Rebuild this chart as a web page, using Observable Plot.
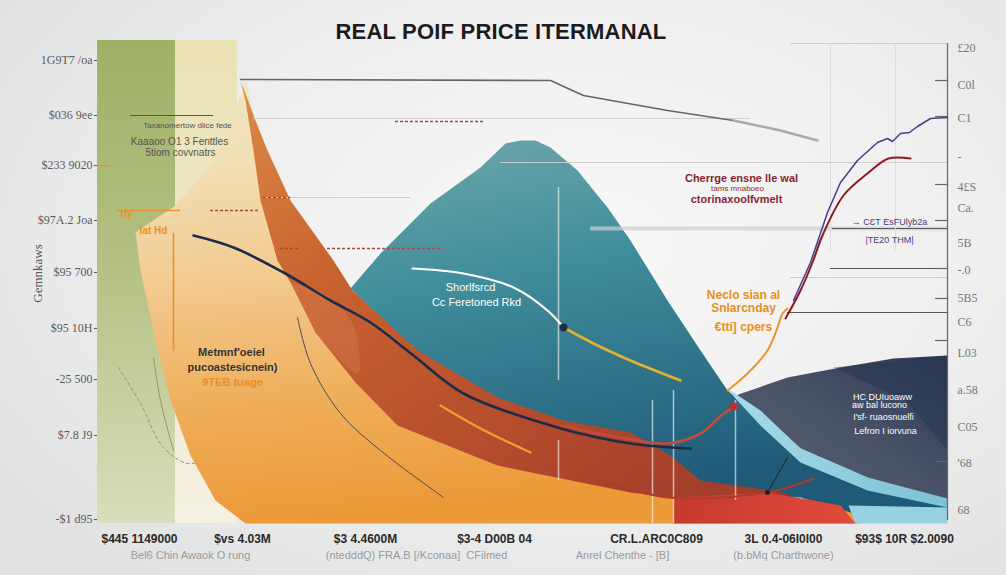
<!DOCTYPE html>
<html><head><meta charset="utf-8">
<script src="https://cdn.jsdelivr.net/npm/d3@7"></script>
<script src="https://cdn.jsdelivr.net/npm/@observablehq/plot@0.6"></script>
<style>
html,body{margin:0;padding:0;}
body{width:1006px;height:575px;overflow:hidden;background:radial-gradient(ellipse 70% 75% at 58% 42%, #f8f8f8 0%, #efefef 55%, #e1e2e3 100%);font-family:"Liberation Sans",Arial,sans-serif;}
#wrap{position:relative;width:1006px;height:575px;}
#title{position:absolute;top:19px;left:0;width:1002px;text-align:center;font:bold 22px/26px "Liberation Sans",Arial,sans-serif;color:#1b1b1b;letter-spacing:0.2px;}
</style></head><body>
<div id="wrap"><div id="title">REAL POIF PRICE ITERMANAL</div><div id="chart"></div></div>
<script>
// ---------- scales (x: 0..170, y: 0..100) ----------
const xDomain = [0, 170];
const yDomain = [0, 100];

// ---------- axis ticks ----------
const leftTickValues = [92.6, 81.6, 71.6, 60.6, 50.2, 39, 28.8, 17.6, 0.8];
const leftTickLabels = ["1G9T7 /oa", "$036 9ee", "$233 9020", "$97A.2 Joa", "$95 700", "$95 10H", "-25 500", "$7.8 J9", "-$1 d95"];
const rightTickValues = [95, 87.6, 81, 73.2, 67.2, 63, 56, 50.6, 45, 40.2, 34, 26.6, 19.2, 12, 2.6];
const rightTickLabels = ["£20", "C0l", "C1", "-", "4£S", "Ca.", "5B", "-.0", "5B5", "C6", "L03", "a.58", "C05", "'68", "68"];
const rightTickMarks = [88.6, 81.4, 67.8, 60.6, 51, 45, 36.6, 12.4];
const bottomTickValues = [8.4, 29, 53.6, 79.4, 111.8, 137.2, 161.4];
const bottomTickLabels = ["$445 1149000", "$vs 4.03M", "$3 4.4600M", "$3-4 D00B 04", "CR.L.ARC0C809", "3L 0.4-06I0I00", "$93$ 10R $2.0090"];
const subTickValues = [18.6, 63.8, 105, 137.2];
const subTickLabels = ["Bel6 Chin Awaok O rung", "(ntedddQ) FRA.B [/Kconaa]  CFilmed", "Anrel Chenthe - [B]", "(b.bMq Charthwone)"];
const yAxisTitle = ["Gemnkaws"];

// ---------- filled regions ----------
const greenBand = [{x1: 0, x2: 15.6, y1: 0, y2: 96.6}];
const creamBand = [{x1: 15.6, x2: 28, y1: 0, y2: 96.6}];
const orangeBody = [[29.6,88.6],[33,74.6],[37.6,60.6],[40.6,49.6],[44.6,40.6],[52.6,29.6],[60.6,20.6],[80.6,12.6],[106.6,6.6],[120.6,5],[152.6,3.6],[152.6,0],[29.6,0],[23.6,4.6],[18.6,13.6],[14.6,24.6],[11.6,36.6],[8.6,50.6],[7.6,58.2],[15.6,63.6],[23.6,72.6],[28.6,85.6]];
const salmonVeil = [[38.6,48.2],[45,46],[51,40],[52,30],[43.6,38.2]];
const tealPeak = [[50.6,47],[56.6,54],[66.6,64],[76.6,71.2],[81.6,76],[84.6,76.6],[87.6,76.6],[90.6,75.2],[96,70.6],[102,63.2],[106.6,56.6],[114,44.6],[120.6,34.6],[126,26.6],[140.6,14.6],[154,9.2],[170,5],[170,1.6],[152.6,1.6],[140.6,5.2],[120.6,5.6],[106.6,12.6],[93.2,19.6],[80,24.6],[64,34.2]];
const brownBand = [[28.6,88.6],[31.6,80.6],[34,74.6],[38.6,64.6],[47.2,52.6],[51,46.6],[64,34.6],[80,25.2],[93.2,20.6],[106.6,18.2],[114.6,13.6],[120.6,8.6],[134.6,6.6],[138.6,5.8],[134.6,5.2],[120.6,4.6],[106.6,6.2],[80,11.6],[60,19.6],[51.6,28.2],[43.6,38.2],[38.6,48.2],[36,52.6],[32.6,64.6],[31.2,74.6],[29.6,84.6]];
const slatePanel = [[127.6,25.6],[138,29.2],[148.6,31.2],[159.2,33],[170,33.6],[170,4.6],[154,9.2],[140.6,15],[132.6,22.2]];
const slateShade = [[147.2,31.2],[170,33.6],[170,14.6],[161.6,24.6]];
const blueRibbon = [[126,27],[132.6,22.6],[140.6,15],[154,9.2],[170,5],[170,3.2],[154,6.6],[140.6,12.2],[132.6,19.6],[127.6,25]];
const blueCorner = [[150.2,3.6],[170,3.2],[170,0],[151.6,0]];
const redBase = [[115.2,5.2],[134,6.2],[143.2,4.6],[148.6,3.6],[151.6,0],[115.2,0]];

// ---------- lines ----------
const topGrey = [[28.6,88.8],[90.6,88.6],[97.2,85.6],[114,82.6],[127.2,80.6]];
const topGreyFade = [[127.2,80.6],[136.6,78.6],[144,76.6]];
const navyLine = [[19.2,57.6],[27.2,55.2],[37.2,50.2],[46.6,44.6],[54.6,40.2],[63.2,33.6],[73.2,26],[92,19.2],[106.6,16],[118.6,15]];
const whiteLine = [[63,51],[73.2,50],[83.2,47.2],[90,42.6],[93.2,39.2]];
const goldLine = [[93.2,39.2],[100,35.6],[106.6,32.6],[116.6,28.6]];
const amberShort = [[68.6,23.6],[76.6,19],[86.6,14.2]];
const thinDark = [[40,41.2],[42.6,32],[48.6,22],[56.6,14.6],[69.2,5.2]];
const dashedGreen = [[4.2,31.2],[8.6,24],[13.2,15.2],[18,12],[21.2,12.6]];
const oliveThin = [[11.2,33.2],[12.6,24.6],[15.2,14.6]];
const orangeVertical = [[15.2,58],[15.2,34.6]];
const redU = [[92.6,19.6],[104.6,17.2],[114,16],[120.6,18],[125.2,22],[127.2,23.2]];
const redLow = [[100.6,8.6],[114,5.2],[134,6.2],[143.2,9]];
const blackTick = [[134,6.2],[138,13.2]];
const orangeRise = [[126,26.6],[130,30],[134,34.6],[136,39.2],[137,42],[138,43]];
const crimsonRise = [[137.6,41],[140.6,46.6],[143,52.2],[145,57.6],[149.2,65.6],[154,70],[158.2,73],[162.6,73]];
const purpleRise = [[139.2,44.6],[142.6,52.2],[146,62.2],[148.6,68.2],[152,72.6],[156,76.2],[158,77],[159,76.4],[160.6,78],[162.4,78.2],[164,79.4],[166.6,81],[170,81.2]];
const navyDots = [[93.2,39.2]];
const redDots = [[127.2,23.4]];
const blackDots = [[134,6.2]];

// ---------- rules ----------
const greyRules = [{y:96,x1:138.6,x2:170},{y:81,x1:31.2,x2:130.6},{y:72.2,x1:80.6,x2:170},{y:65.2,x1:33.2,x2:62.6},{y:49.2,x1:138.6,x2:170}];
const softBands = [{y:59,x1:98.6,x2:170}];
const darkRules = [{y:81.6,x1:6.6,x2:23.2},{y:51,x1:146.6,x2:170},{y:42.2,x1:138,x2:170},{y:59,x1:147,x2:170}];
const redDashRules = [{y:80.4,x1:59.6,x2:77.6},{y:65.2,x1:33.2,x2:38.6},{y:62.6,x1:22.6,x2:32.2},{y:55,x1:36.6,x2:40.6},{y:55,x1:46,x2:69.2}];
const orangeRules = [{y:62.6,x1:4,x2:16.6},{y:71.6,x1:0,x2:2.6}];
const whiteVRules = [{x:92.2,y1:67.2,y2:28.6},{x:92.2,y1:16.6,y2:8.6},{x:111,y1:24.6,y2:0},{x:115.2,y1:26.6,y2:0},{x:127.6,y1:24.6,y2:4.6}];
const greyVRules = [{x:146.6,y1:96,y2:54.6},{x:159.6,y1:96,y2:54.6}];
const rightAxisLine = [{x:170,y1:96,y2:0.6}];

// ---------- annotations ----------
const notesGreyTiny = [{x:18,y:79.6,text:"Taxanomertow dlice fede"}];
const notesGrey = [{x:16.4,y:76.4,text:"Kaaaoo O1 3 Fenttles"},{x:16.6,y:74.2,text:"5tiom covvnatrs"}];
const notesOrangeLeft = [{x:5.8,y:62,text:"tfy"},{x:11.2,y:58.6,text:"lat Hd"}];
const notesDarkMid = [{x:26.8,y:34.2,text:"Metmnf'oeiel"},{x:27,y:31.2,text:"pucoastesicnein)"}];
const notesOrangeMid = [{x:27,y:28.2,text:"9TEB tuage"}];
const notesWhiteTeal = [{x:74.6,y:47.2,text:"Shorlfsrcd"},{x:75.8,y:44.2,text:"Cc Feretoned Rkd"}];
const notesRed = [{x:128.8,y:69,text:"Cherrge ensne lle wal"},{x:127.8,y:64.8,text:"ctorinaxoolfvmelt"}];
const notesRedTiny = [{x:128,y:67,text:"tams mnaboeo"}];
const notesOrangeRight = [{x:129.2,y:45.6,text:"Neclo sian al"},{x:129.2,y:43,text:"Snlarcnday"},{x:129.2,y:39.2,text:"€tti] cpers"}];
const notesPurple = [{x:158.4,y:60.2,text:"→ CƐT EsFUlyb2a"},{x:158.4,y:56.6,text:"|TE20 THM|"}];
const notesPanel = [{x:157,y:25.2,text:"HC DUIuoaww"},{x:156.4,y:23.6,text:"aw bal lucono"},{x:157.2,y:21.2,text:"I'sf- ruaosnuelfi"},{x:157.6,y:18.4,text:"Lefron I iorvuna"}];

// ---------- gradients ----------
const gradients = [
  {id:"gGreen", v:[0,0,0,1], stops:[[0,"#9fb066"],[0.45,"#b4c082"],[1,"#d9debc"]]},
  {id:"gCream", v:[0,0,0,1], stops:[[0,"#ebe3b5"],[0.5,"#efe8c8"],[1,"#f5f1e2"]]},
  {id:"gOrange", v:[0.15,1,0,0], stops:[[0,"#ec9a38"],[0.25,"#efad58"],[0.55,"#f3cb92"],[0.8,"#f1dfb4"],[1,"#efe6c0"]]},
  {id:"gBrown", v:[0,0,1,1], stops:[[0,"#dc8c48"],[0.3,"#c9632f"],[0.7,"#b3492c"],[1,"#9c3a2a"]]},
  {id:"gTeal", v:[0,0,0.3,1], stops:[[0,"#6fa8ab"],[0.4,"#3f8d9b"],[1,"#1f5a78"]]},
  {id:"gSlate", v:[1,0,0,1], stops:[[0,"#2c3a56"],[0.5,"#4a5367"],[1,"#5b6071"]]},
  {id:"gRibbon", v:[0,0,1,0], stops:[[0,"#a6dbe8"],[1,"#7cc0d6"]]},
  {id:"gRed", v:[0,0,1,0], stops:[[0,"#c43a2f"],[1,"#e24a3c"]]}
];

const xy = {x: d => d[0], y: d => d[1]};
const poly = (data, fill, extra = {}) => Plot.line(data, {...xy, fill, stroke: "none", ...extra});
const ln = (data, stroke, strokeWidth, extra = {}) => Plot.line(data, {...xy, stroke, strokeWidth, curve: "catmull-rom", strokeLinecap: "round", ...extra});
const leftMap = new Map(leftTickValues.map((v, i) => [v, leftTickLabels[i]]));
const rightMap = new Map(rightTickValues.map((v, i) => [v, rightTickLabels[i]]));
const bottomMap = new Map(bottomTickValues.map((v, i) => [v, bottomTickLabels[i]]));
const subMap = new Map(subTickValues.map((v, i) => [v, subTickLabels[i]]));
const txt = (data, fill, fontSize, extra = {}) => Plot.text(data, {x: "x", y: "y", text: "text", fill, fontSize, ...extra});
const hr = (data, stroke, strokeWidth, extra = {}) => Plot.ruleY(data, {y: "y", x1: "x1", x2: "x2", stroke, strokeWidth, ...extra});

const svg = Plot.plot({
  width: 1006, height: 575,
  marginLeft: 97, marginRight: 59, marginTop: 23, marginBottom: 52,
  x: {domain: xDomain},
  y: {domain: yDomain},
  style: {background: "transparent", fontFamily: "'Liberation Sans', Arial, sans-serif", overflow: "visible"},
  marks: [
    Plot.rect(greenBand, {x1: "x1", x2: "x2", y1: "y1", y2: "y2", fill: "url(#gGreen)"}),
    Plot.rect(creamBand, {x1: "x1", x2: "x2", y1: "y1", y2: "y2", fill: "url(#gCream)"}),
    ln(dashedGreen, "#8d9470", 1, {strokeDasharray: "3,3"}),
    ln(oliveThin, "#8e9666", 1),
    poly(orangeBody, "url(#gOrange)"),
    poly(tealPeak, "url(#gTeal)"),
    poly(brownBand, "url(#gBrown)"),
    poly(salmonVeil, "#f0b48a", {fillOpacity: 0.15, curve: "catmull-rom"}),
    poly(slatePanel, "url(#gSlate)"),
    poly(slateShade, "#26344f", {fillOpacity: 0.45}),
    poly(blueRibbon, "url(#gRibbon)"),
    poly(blueCorner, "#98d1e2"),
    poly(redBase, "url(#gRed)"),
    // grid & rules
    hr(greyRules, "#cdcdcd", 1),
    hr(softBands, "#cfcfcf", 4, {strokeOpacity: 0.7}),
    hr(darkRules, "#555", 1.2),
    hr(redDashRules, "#a84a3a", 1.5, {strokeDasharray: "3,2"}),
    hr(orangeRules, "#e8902a", 1.5),
    Plot.ruleX(whiteVRules, {x: "x", y1: "y1", y2: "y2", stroke: "white", strokeOpacity: 0.6, strokeWidth: 1.5}),
    Plot.ruleX(greyVRules, {x: "x", y1: "y1", y2: "y2", stroke: "#dcdcdc", strokeWidth: 1}),
    Plot.ruleX(rightAxisLine, {x: "x", y1: "y1", y2: "y2", stroke: "#666", strokeWidth: 1.2}),
    Plot.ruleY(rightTickMarks, {y: d => d, x1: 167.6, x2: 170, stroke: "#666", strokeWidth: 1.2}),
    // lines
    ln(topGrey, "#666", 1.6, {curve: "linear"}),
    ln(topGreyFade, "#aaa", 2.5, {curve: "linear"}),
    ln(thinDark, "#4a4a5a", 1),
    ln(orangeVertical, "#e8902a", 1.5),
    ln(navyLine, "#1d2c48", 2.6),
    ln(amberShort, "#f0a030", 2.2),
    ln(whiteLine, "white", 2.2),
    ln(goldLine, "#e6b030", 2.6),
    ln(redU, "#c24b3a", 2.6),
    ln(redLow, "#b03a2c", 2),
    ln(blackTick, "#222", 1),
    ln(orangeRise, "#e8962a", 2),
    ln(purpleRise, "#4b3c85", 1.5, {curve: "linear"}),
    ln(crimsonRise, "#8b1a22", 2),
    Plot.dot(navyDots, {...xy, r: 4, fill: "#1d2e4a"}),
    Plot.dot(redDots, {...xy, r: 4, fill: "#c0302a"}),
    Plot.dot(blackDots, {...xy, r: 2.5, fill: "#222"}),
    // annotations
    txt(notesGreyTiny, "#555", 8),
    txt(notesGrey, "#555", 10),
    txt(notesOrangeLeft, "#e8902a", 10, {fontWeight: "bold"}),
    txt(notesDarkMid, "#333", 11, {fontWeight: "bold"}),
    txt(notesOrangeMid, "#e8902a", 11, {fontWeight: "bold"}),
    txt(notesWhiteTeal, "white", 11),
    txt(notesRed, "#8a1f30", 11, {fontWeight: "bold"}),
    txt(notesRedTiny, "#8a1f30", 8),
    txt(notesOrangeRight, "#e8901a", 12, {fontWeight: "bold"}),
    txt(notesPurple, "#4a3a7a", 9),
    txt(notesPanel, "white", 9),
    Plot.text(yAxisTitle, {x: -12, y: 50, text: d => d, rotate: -90, fontSize: 13, fill: "#555", fontFamily: "'Liberation Serif', serif"}),
    // axes
    Plot.axisY(leftTickValues, {anchor: "left", tickSize: 3, tickPadding: 2, tickFormat: d => leftMap.get(d), label: null, fontSize: 12, color: "#5a5a5a", fontFamily: "'Liberation Serif', serif"}),
    Plot.axisY(rightTickValues, {anchor: "right", tickSize: 0, tickPadding: 10, tickFormat: d => rightMap.get(d), label: null, fontSize: 12, color: "#777", fontFamily: "'Liberation Serif', serif"}),
    Plot.axisX(bottomTickValues, {anchor: "bottom", tickSize: 0, tickPadding: 11, tickFormat: d => bottomMap.get(d), label: null, fontSize: 12, fontWeight: "bold", color: "#2a2a2a"}),
    Plot.axisX(subTickValues, {anchor: "bottom", tickSize: 0, tickPadding: 28, tickFormat: d => subMap.get(d), label: null, fontSize: 11, color: "#9a9a9a"})
  ]
});

const defs = d3.select(svg).insert("defs", ":first-child");
for (const g of gradients) {
  const lg = defs.append("linearGradient").attr("id", g.id)
    .attr("x1", g.v[0]).attr("y1", g.v[1]).attr("x2", g.v[2]).attr("y2", g.v[3]);
  for (const [o, c] of g.stops) lg.append("stop").attr("offset", o).attr("stop-color", c);
}
document.getElementById("chart").appendChild(svg);
</script></body></html>
